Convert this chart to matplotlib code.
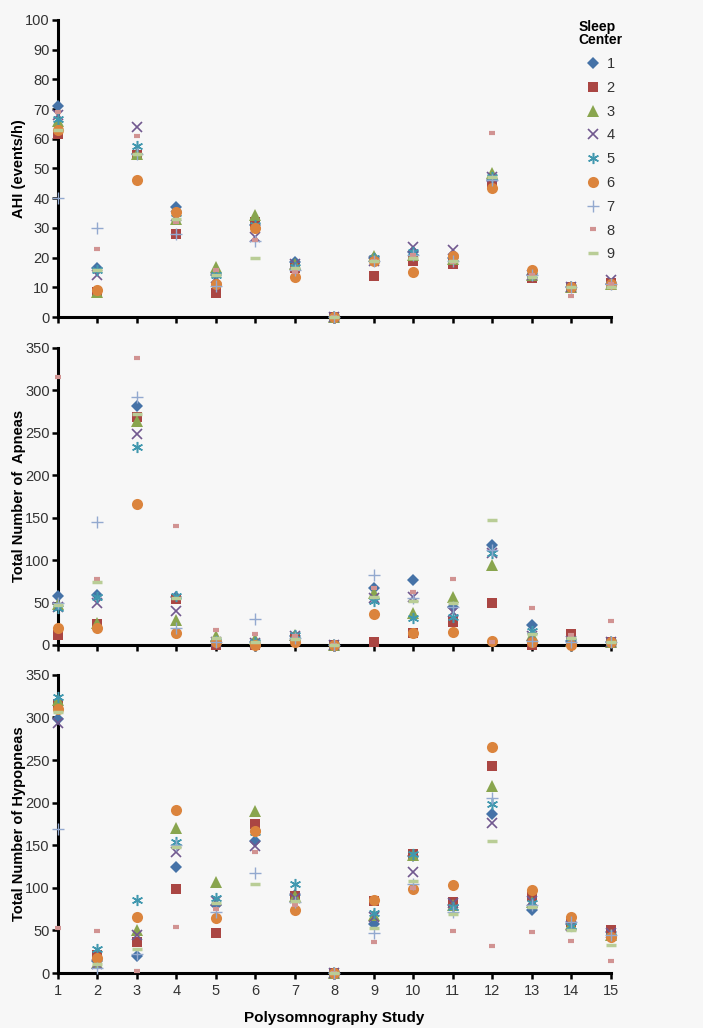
import matplotlib
matplotlib.use('Agg')
import matplotlib.pyplot as plt

plt.rcParams['font.family'] = ['Liberation Sans', 'DejaVu Sans']

studies = list(range(1, 16))
centers = ['1', '2', '3', '4', '5', '6', '7', '8', '9']

# AHI (events/h), one list per sleep center
ahi = [
    [71, 16.5, 55, 37, 14, 31, 18.5, 0, 20, 22, 20, 46, 14, 10, 11],
    [61.5, 8.5, 54.5, 28, 8, 32, 16.5, 0, 13.8, 19, 18, 45, 13, 10, 11.5],
    [66, 8.5, 55, 33, 17, 34.5, 18, 0, 20.5, 21, 19.5, 48.5, 14, 10, 11],
    [68, 14, 64, 34, 13, 27, 18, 0, 19, 23.5, 22.5, 47, 14, 10, 12.5],
    [66.5, 16, 57.5, 35, 14, 31, 17, 0, 20, 22, 20, 47, 14, 10, 11],
    [63, 9, 46.2, 35.5, 11, 30, 13.5, 0, 19, 15, 20.5, 43.5, 16, 10, 11],
    [40, 30, 55, 28, 10.5, 25.5, 16, 0, 19, 21, 19, 46, 14, 10, 11],
    [69, 23, 61, 32, 16, 26, 15, 0, 19, 21, 18.5, 62, 14, 7, 11],
    [63, 16, 55, 33, 14, 19.8, 16.5, 0, 19, 20, 19, 47, 13.5, 10, 10],
]

apneas = [
    [58, 59, 282, 57, 5, 3, 10, 0, 67, 76, 45, 118, 23, 5, 4],
    [12, 25, 268, 54, 0, 0, 8, 0, 3.5, 14.5, 27.5, 50, 0, 13, 3],
    [48, 26, 264, 29, 10, 7, 12, 0, 61, 38, 57, 94, 12, 5, 3],
    [45, 50, 248, 40, 4, 2, 10, 0, 55, 57, 39, 108, 10, 5, 4],
    [44, 57, 233, 58, 5, 3, 12, 0, 52, 31.5, 33, 108, 17, 5, 3],
    [20, 20, 166, 14.5, 3, 0, 3, 0, 37, 14, 15.7, 4.7, 3, 0, 3],
    [50, 145, 292, 20, 3, 31, 8, 0, 82.5, 55, 45, 112, 5, 3, 3],
    [316, 78, 338, 140, 17.7, 12.6, 10, 0, 67, 62, 78, 3, 43, 12, 28.6],
    [47, 74, 272, 55, 8, 4, 7, 0, 57, 52, 50, 147, 13, 8, 3],
]

hypopneas = [
    [298, 14, 20, 124, 80, 155, 92, 0, 57, 137, 80, 186.5, 74, 58, 48],
    [316, 21, 36, 99, 47.4, 175, 90, 0, 85, 140, 83, 243.6, 90, 60, 51],
    [320, 12, 51, 170, 107, 190.7, 90, 0, 68, 138, 80, 219, 83, 57, 45],
    [293, 10, 45, 142, 85, 149.6, 88, 0, 66, 118, 82, 176, 85, 55, 47],
    [324.6, 28, 86, 154, 88.5, 165, 105, 0, 71, 140, 78, 198.6, 82, 55, 44],
    [310, 17.6, 65.4, 191.5, 65, 167, 74, 0, 85.8, 98.5, 103, 265.6, 97.5, 65.4, 42],
    [168.6, 5.5, 22, 150, 72, 117, 83, 0, 47, 105, 72, 205, 80, 60, 45],
    [52.5, 49, 2, 54.4, 75, 142.6, 80, 0, 36.8, 100, 49, 31.7, 47.8, 37.6, 14.5],
    [307, 11, 28, 148, 82, 104.6, 85, 0, 52.5, 108.5, 69, 155, 78, 51, 32.5],
]

colors = ['#4572A7', '#AA4643', '#89A54E', '#71588F', '#4198AF',
          '#DB843D', '#93A9CF', '#D19392', '#B9CD96']
styles = [
    dict(marker='D', ms=6.5, mew=0),
    dict(marker='s', ms=7.5, mew=0),
    dict(marker='^', ms=8, mew=0),
    dict(marker='x', ms=7.5, mew=1.2),
    dict(marker=(6, 2, 0), ms=8, mew=1.1),
    dict(marker='o', ms=8, mew=0),
    dict(marker='+', ms=8, mew=1.0),
    dict(marker='_', ms=4.5, mew=3),
    dict(marker='_', ms=7.5, mew=2.5),
]

bg = '#f7f7f7'
fig = plt.figure(figsize=(7.03, 10.28), dpi=100, facecolor=bg)

panels = [
    (ahi, 'AHI (events/h)', 100, 10, [0.0825, 0.6916, 0.7865, 0.289]),
    (apneas, 'Total Number of  Apneas', 350, 50, [0.0825, 0.3726, 0.7865, 0.289]),
    (hypopneas, 'Total Number of Hypopneas', 350, 50, [0.0825, 0.0535, 0.7865, 0.29]),
]

axes = []
for data, label, ymax, step, pos in panels:
    ax = fig.add_axes(pos)
    ax.set_facecolor(bg)
    for i in range(9):
        ax.plot(studies, data[i], linestyle='none', color=colors[i],
                mec=colors[i], clip_on=False, zorder=3 + i,
                label=centers[i], **styles[i])
    ax.set_xlim(1, 15)
    ax.set_ylim(0, ymax)
    ax.set_yticks(range(0, ymax + 1, step))
    ax.set_xticks(studies)
    for s in ['top', 'right']:
        ax.spines[s].set_visible(False)
    for s in ['left', 'bottom']:
        ax.spines[s].set_linewidth(2.2)
        ax.spines[s].set_zorder(2)
    ax.tick_params(axis='both', direction='out', length=4, width=1.8,
                   labelsize=10.5, labelcolor='#333333', pad=2)
    ax.set_ylabel(label, fontsize=10.5, fontweight='bold')
    ax.yaxis.set_label_coords(-0.058, 0.5)
    axes.append(ax)

axes[0].tick_params(axis='x', labelbottom=False)
axes[1].tick_params(axis='x', labelbottom=False)
axes[2].tick_params(axis='x', pad=4)
axes[2].set_xlabel('Polysomnography Study', fontsize=11, fontweight='bold',
                   labelpad=9)

leg = axes[0].legend(title='Sleep\nCenter', loc='upper left',
                     bbox_to_anchor=(0.941, 1.0), frameon=False,
                     handlelength=1.0, handletextpad=0.4, labelspacing=0.67,
                     fontsize=10.5, borderaxespad=0, borderpad=0)
leg.get_title().set_fontweight('bold')
leg.get_title().set_fontsize(10)
leg.get_title().set_linespacing(0.95)
for t in leg.get_texts():
    t.set_color('#333333')

fig.savefig('out.png', dpi=100, facecolor=bg)
